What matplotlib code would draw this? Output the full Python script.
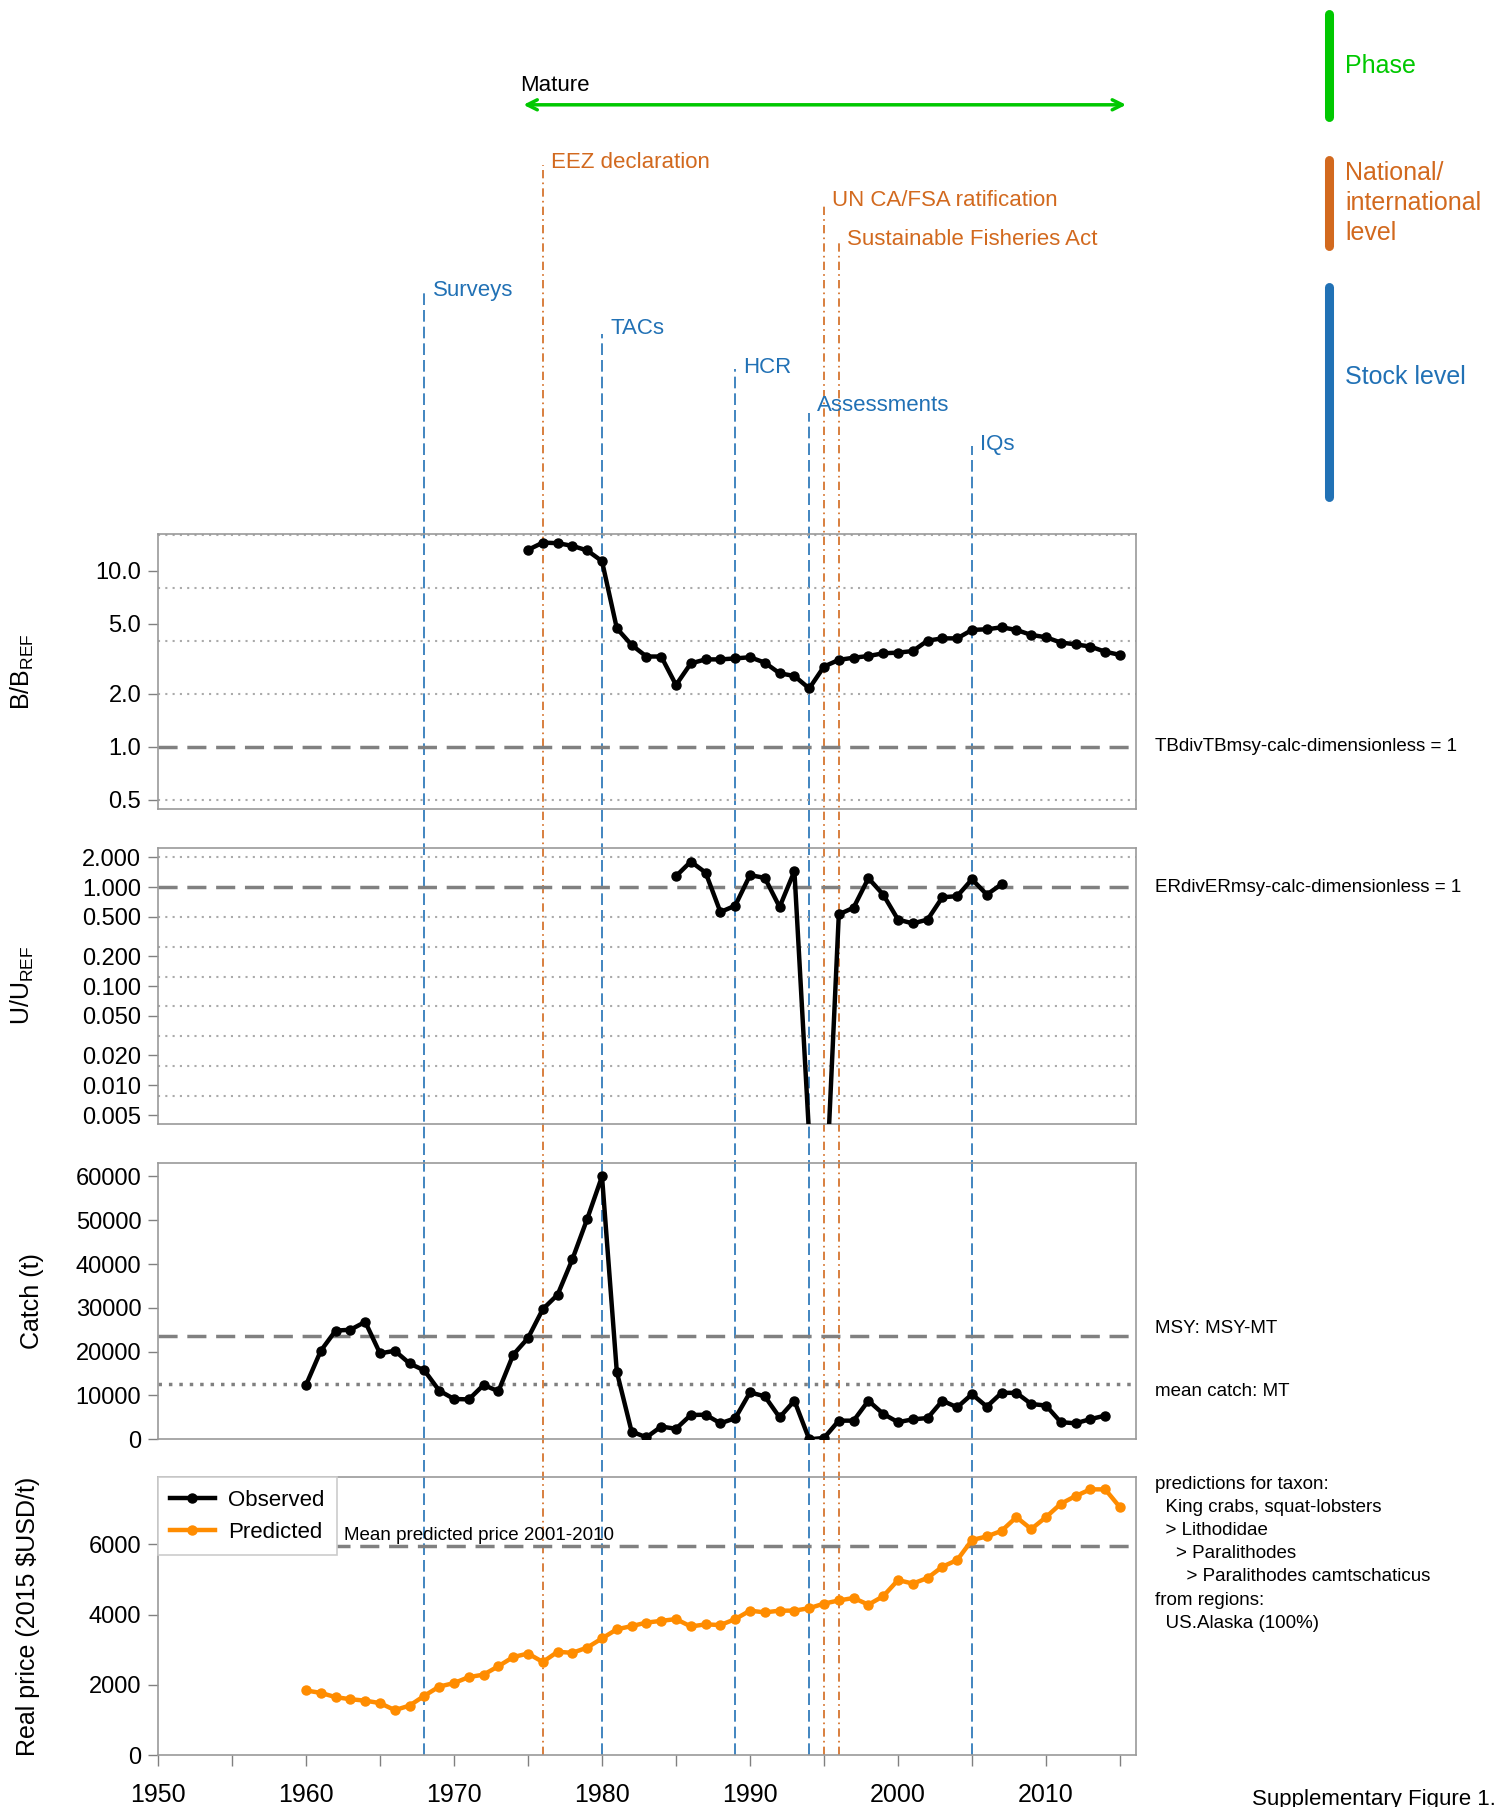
import matplotlib.pyplot as plt
import matplotlib.transforms as mtransforms
from matplotlib.lines import Line2D
from matplotlib.patches import FancyArrowPatch
from matplotlib.ticker import NullLocator
import numpy as np

plt.rcParams['font.family'] = ['Liberation Sans', 'DejaVu Sans']
plt.rcParams['mathtext.fontset'] = 'custom'
plt.rcParams['mathtext.rm'] = 'Liberation Sans'

# ---- data ----
b_years = list(range(1975, 2016))
b_ratio = [13.1, 14.4, 14.3, 13.8, 13.0, 11.3, 4.70, 3.78, 3.25, 3.25,
           2.24, 2.97, 3.13, 3.13, 3.17, 3.22, 3.00, 2.61, 2.52, 2.14,
           2.85, 3.11, 3.20, 3.27, 3.39, 3.42, 3.49, 4.00, 4.12, 4.12,
           4.60, 4.64, 4.76, 4.60, 4.31, 4.18, 3.90, 3.81, 3.70, 3.46,
           3.32]

u_years = list(range(1985, 2008))
u_ratio = [1.29, 1.81, 1.40, 0.56, 0.65, 1.32, 1.24, 0.63, 1.45, 0.003,
           0.0003, 0.53, 0.62, 1.23, 0.84, 0.47, 0.43, 0.47, 0.79, 0.81,
           1.20, 0.84, 1.07]

catch_years = list(range(1960, 2015))
catch_t = [12400, 20200, 24800, 25000, 26800, 19600, 20200, 17300, 15700, 11100,
           9200, 9100, 12400, 10950, 19300, 23100, 29700, 33000, 41100, 50300,
           60000, 15400, 1750, 450, 2900, 2400, 5550, 5600, 3650, 4800,
           10700, 9800, 5000, 8800, 0, 300, 4250, 4250, 8800, 5800,
           3900, 4550, 4850, 8800, 7300, 10300, 7450, 10600, 10600, 8050,
           7700, 3900, 3650, 4600, 5400]
msy = 23600

price_years = list(range(1960, 2016))
price_pred = [1840, 1770, 1650, 1590, 1550, 1480, 1280, 1410, 1690, 1950,
              2050, 2220, 2290, 2530, 2790, 2890, 2650, 2940, 2910, 3060,
              3320, 3580, 3670, 3770, 3820, 3870, 3660, 3720, 3700, 3870,
              4110, 4060, 4110, 4110, 4180, 4310, 4400, 4470, 4280, 4520,
              4980, 4880, 5040, 5360, 5550, 6120, 6220, 6380, 6770, 6430,
              6770, 7150, 7370, 7560, 7560, 7050]

event_names = ["Surveys", "EEZ declaration", "TACs", "HCR", "Assessments",
               "UN CA/FSA ratification", "Sustainable Fisheries Act", "IQs"]
event_years = [1968, 1976, 1980, 1989, 1994, 1995, 1996, 2005]
event_level = ["stock", "national", "stock", "stock", "stock",
               "national", "national", "stock"]

phase_name = "Mature"
phase_start, phase_end = 1974.5, 2015.6

taxon_text = ("predictions for taxon:\n"
              "  King crabs, squat-lobsters\n"
              "  > Lithodidae\n"
              "    > Paralithodes\n"
              "      > Paralithodes camtschaticus\n"
              "from regions:\n"
              "  US.Alaska (100%)")

mean_catch = np.mean(catch_t)
sel = [p for y, p in zip(price_years, price_pred) if 2001 <= y <= 2010]
mean_price = np.mean(sel)

# ---- styling ----
green = '#00C800'
orange = '#D2691E'
blue = '#2171B5'
spine_col = '#9a9a9a'
grid_col = '#aaaaaa'
ref_col = '#808080'
level_col = {"stock": blue, "national": orange}
level_ls = {"stock": (0, (7, 3)), "national": (0, (5, 2.5, 1, 2.5))}

fig = plt.figure(figsize=(15.05, 18.07), dpi=100)
L, W = 0.105, 0.650
ax1 = fig.add_axes([L, 0.5523, W, 0.1524])
ax2 = fig.add_axes([L, 0.3782, W, 0.1525])
ax3 = fig.add_axes([L, 0.2035, W, 0.1530])
ax4 = fig.add_axes([L, 0.0287, W, 0.1537])

for ax in (ax1, ax2, ax3, ax4):
    ax.set_facecolor('none')
    ax.set_xlim(1950, 2016.1)
    for s in ax.spines.values():
        s.set_color(spine_col)
        s.set_linewidth(1.2)
    ax.tick_params(axis='y', length=7, width=1, color=ref_col,
                   labelsize=17, pad=5)
for ax in (ax1, ax2, ax3):
    ax.set_xticks([])

line_kw = dict(color='black', lw=3.2, marker='o', ms=6.5, zorder=5)
dash_ref = (0, (5.5, 2.8))
dot_grid = (0, (1, 2.5))

# B / BREF
ax1.set_yscale('log')
ax1.set_ylim(0.443, 16.2)
for v in [0.5, 2, 4, 8, 16]:
    ax1.axhline(v, color=grid_col, ls=dot_grid, lw=1.5)
ax1.axhline(1, color=ref_col, ls=dash_ref, lw=2.5)
ax1.plot(b_years, b_ratio, **line_kw)
ax1.set_yticks([0.5, 1, 2, 5, 10])
ax1.set_yticklabels(['0.5', '1.0', '2.0', '5.0', '10.0'])
ax1.yaxis.set_minor_locator(NullLocator())

# U / UREF
ax2.set_yscale('log')
ax2.set_ylim(0.0041, 2.48)
for k in [1, -1, -2, -3, -4, -5, -6, -7]:
    ax2.axhline(2.0 ** k, color=grid_col, ls=dot_grid, lw=1.5)
ax2.axhline(1, color=ref_col, ls=dash_ref, lw=2.5)
ax2.plot(u_years, u_ratio, **line_kw)
u_ticks = [0.005, 0.01, 0.02, 0.05, 0.1, 0.2, 0.5, 1, 2]
ax2.set_yticks(u_ticks)
ax2.set_yticklabels(['%.3f' % t for t in u_ticks])
ax2.yaxis.set_minor_locator(NullLocator())

# Catch
ax3.set_ylim(0, 63100)
ax3.axhline(msy, color=ref_col, ls=dash_ref, lw=2.5)
ax3.axhline(mean_catch, color=ref_col, ls=(0, (1, 2)), lw=2.5)
ax3.plot(catch_years, catch_t, **line_kw)
ax3.set_yticks(range(0, 60001, 10000))
ax3.set_yticklabels([str(t) for t in range(0, 60001, 10000)])

# Price
ax4.set_ylim(0, 7900)
ax4.axhline(mean_price, color=ref_col, ls=dash_ref, lw=2.5)
ax4.plot(price_years, price_pred, color='#FF8C00', lw=3.2, marker='o',
         ms=6.5, zorder=5)
ax4.set_yticks([0, 2000, 4000, 6000])
ax4.set_yticklabels(['0', '2000', '4000', '6000'])
xt = list(range(1950, 2016, 5))
ax4.set_xticks(xt)
ax4.set_xticklabels([str(t) if t % 10 == 0 else '' for t in xt])
ax4.tick_params(axis='x', length=8, width=1, color=ref_col,
                labelsize=18, pad=12)
ax4.text(1962.6, 6240, "Mean predicted price 2001-2010", fontsize=13.5,
         va='center', ha='left')
handles = [Line2D([], [], color='black', lw=3.2, marker='o', ms=6.5),
           Line2D([], [], color='#FF8C00', lw=3.2, marker='o', ms=6.5)]
leg = ax4.legend(handles, ["Observed", "Predicted"], loc='upper left',
                 bbox_to_anchor=(0, 1), borderaxespad=0.0, fancybox=False,
                 edgecolor='#cccccc', fontsize=16, handlelength=2.0,
                 framealpha=1, borderpad=0.55, labelspacing=0.5,
                 handletextpad=0.6)
leg.get_frame().set_linewidth(1.2)

# y labels
fig.text(0.0146, 0.6285, 'B/B$_{\\rm REF}$', rotation=90, fontsize=18,
         ha='center', va='center')
fig.text(0.0146, 0.4545, 'U/U$_{\\rm REF}$', rotation=90, fontsize=18,
         ha='center', va='center')
fig.text(0.0213, 0.2800, 'Catch (t)', rotation=90, fontsize=18,
         ha='center', va='center')
fig.text(0.0186, 0.1055, 'Real price (2015 \\$USD/t)', rotation=90,
         fontsize=18, ha='center', va='center')

# right-side notes
nx = 0.7675
fig.text(nx, 0.5867, "TBdivTBmsy-calc-dimensionless = 1", fontsize=13.5,
         va='center')
fig.text(nx, 0.5088, "ERdivERmsy-calc-dimensionless = 1", fontsize=13.5,
         va='center')
fig.text(nx, 0.2647, "MSY: MSY-MT", fontsize=13.5, va='center')
fig.text(nx, 0.2302, "mean catch: MT", fontsize=13.5, va='center')
fig.text(nx, 0.1832, taxon_text, fontsize=13.5, va='top', linespacing=1.47)

# event timeline (x in years, y in figure fraction)
blend = mtransforms.blended_transform_factory(ax4.transData, fig.transFigure)
line_top = [0.8386, 0.9088, 0.8151, 0.7959, 0.7717, 0.8878, 0.8661, 0.7532]
label_y = [0.8393, 0.9101, 0.8182, 0.7966, 0.7755, 0.8890, 0.8673, 0.7538]
for name, yr, lev, top, ly in zip(event_names, event_years, event_level,
                                  line_top, label_y):
    c = level_col[lev]
    fig.add_artist(Line2D([yr, yr], [0.0287, top], transform=blend, color=c,
                          lw=1.2, ls=level_ls[lev], zorder=-1))
    fig.text(yr + 0.55, ly, name, transform=blend, color=c, fontsize=16,
             ha='left', va='center')

fig.add_artist(FancyArrowPatch((phase_start, 0.942), (phase_end, 0.942),
                               transform=blend, arrowstyle='<->',
                               mutation_scale=18, color=green, lw=2.5))
fig.text(phase_start, 0.9528, phase_name, transform=blend, fontsize=16,
         ha='left', va='center')

# level key on the right
bx = 0.8829
for (y0, y1), c in zip([(0.9355, 0.9925), (0.864, 0.9114), (0.7251, 0.8413)],
                       [green, orange, blue]):
    fig.add_artist(Line2D([bx, bx], [y0, y1], transform=fig.transFigure,
                          color=c, lw=6.5, solid_capstyle='round'))
fig.text(0.8937, 0.9636, "Phase", color=green, fontsize=18, va='center')
fig.text(0.8937, 0.8878, "National/\ninternational\nlevel", color=orange,
         fontsize=18, va='center', linespacing=1.32)
fig.text(0.8937, 0.7915, "Stock level", color=blue, fontsize=18, va='center')

fig.text(0.832, 0.004, "Supplementary Figure 1.", fontsize=16, va='center')

fig.savefig('out.png', dpi=100)
